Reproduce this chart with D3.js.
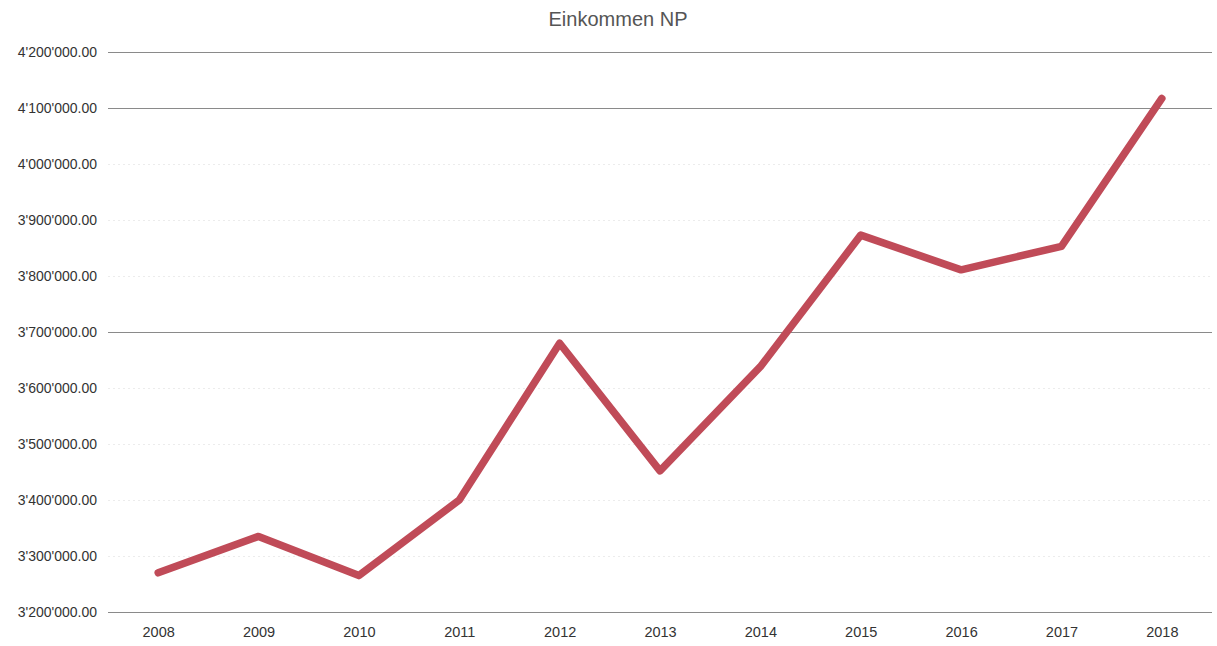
<!DOCTYPE html>
<html><head><meta charset="utf-8">
<script src="https://cdn.jsdelivr.net/npm/d3@7"></script>
<style>body{margin:0;background:#fff;} svg{display:block;}</style>
</head><body>
<svg id="c" width="1217" height="646"></svg>
<script>
const years = ["2008","2009","2010","2011","2012","2013","2014","2015","2016","2017","2018"];
const income = [3270000,3335000,3265000,3400000,3680000,3452000,3638000,3873000,3811000,3853000,4117000];
const yTicks = [3200000,3300000,3400000,3500000,3600000,3700000,3800000,3900000,4000000,4100000,4200000];
const strongGrid = [3200000,3700000,4100000,4200000];
const title = "Einkommen NP";

const svg = d3.select("#c");
const m = {left:108, right:5, top:52, bottom:612};
const x = d3.scalePoint().domain(years).range([m.left, 1217-m.right]).padding(0.5);
const y = d3.scaleLinear().domain([3200000,4200000]).range([m.bottom, m.top]);
const loc = d3.formatLocale({decimal:".", thousands:"'", grouping:[3], currency:["",""]});
const fmt = loc.format(",.2f");
const font = "Liberation Sans, Arial, sans-serif";

const yAxis = svg.append("g").attr("transform",`translate(${m.left},0)`)
  .call(d3.axisLeft(y).tickValues(yTicks).tickFormat(fmt).tickSize(-(1217-m.right-m.left)).tickPadding(11));
yAxis.select(".domain").remove();
yAxis.selectAll(".tick line")
  .attr("stroke", d => strongGrid.includes(d) ? "#8a8a8a" : "#ececec")
  .attr("stroke-width", 1)
  .attr("stroke-dasharray", d => strongGrid.includes(d) ? null : "2,3");
yAxis.selectAll(".tick text").attr("font-family",font).attr("font-size",14).attr("fill","#333");

const xAxis = svg.append("g").attr("transform",`translate(0,${m.bottom})`)
  .call(d3.axisBottom(x).tickSize(0).tickPadding(15));
xAxis.select(".domain").remove();
xAxis.selectAll(".tick text").attr("font-family",font).attr("font-size",14.5).attr("fill","#333");

svg.append("path").datum(income)
  .attr("fill","none").attr("stroke","#c04b58").attr("stroke-width",7.5)
  .attr("stroke-linejoin","round").attr("stroke-linecap","round")
  .attr("d", d3.line().x((d,i)=>x(years[i])).y(d=>y(d)));

svg.append("text").attr("x",618).attr("y",26).attr("text-anchor","middle")
  .attr("font-family",font).attr("font-size",20).attr("fill","#555").text(title);
</script>
</body></html>
